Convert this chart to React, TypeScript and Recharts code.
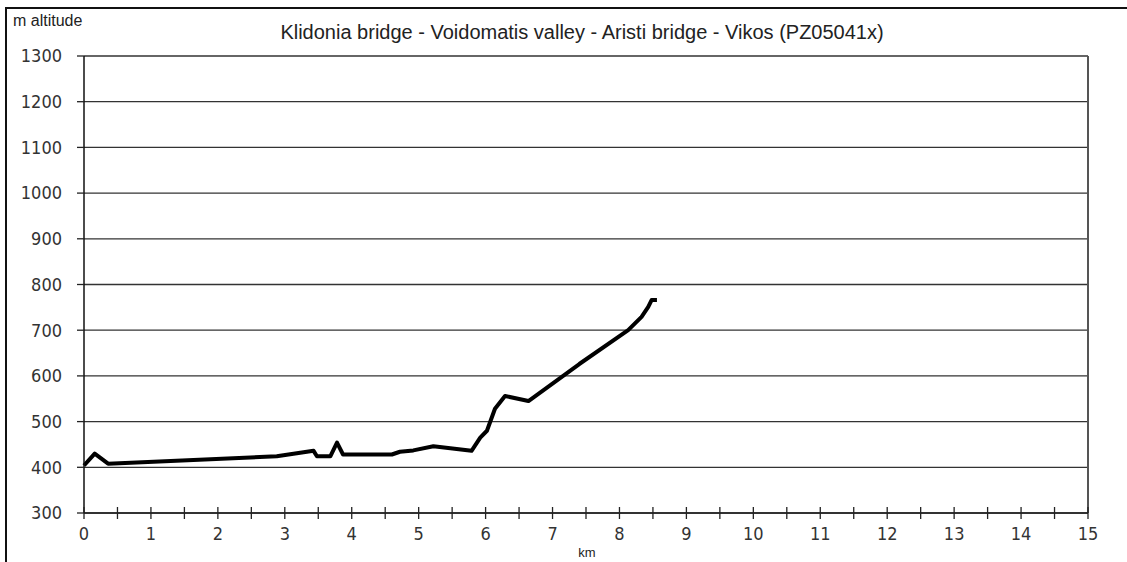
import React from "react";
import { LineChart, Line, XAxis, YAxis, CartesianGrid, ReferenceLine } from "recharts";

// distance along the route (km) and altitude (m)
const km = [0, 0.16, 0.36, 2.88, 3.43, 3.48, 3.68, 3.78, 3.87, 4.6, 4.72, 4.92, 5.22, 5.79, 5.92, 6.02, 6.14, 6.29, 6.64, 7.4, 8.13, 8.33, 8.43, 8.48, 8.56];
const altitude = [404, 430, 408, 424, 436, 424, 424, 454, 428, 428, 434, 437, 446, 436, 465, 480, 528, 556, 545, 626, 700, 729, 751, 766, 766];

const kmTicks = [0, 0.5, 1, 1.5, 2, 2.5, 3, 3.5, 4, 4.5, 5, 5.5, 6, 6.5, 7, 7.5, 8, 8.5, 9, 9.5, 10, 10.5, 11, 11.5, 12, 12.5, 13, 13.5, 14, 14.5, 15];
const altTicks = [300, 400, 500, 600, 700, 800, 900, 1000, 1100, 1200, 1300];

const title = "Klidonia bridge - Voidomatis valley - Aristi bridge - Vikos (PZ05041x)";

const data = km.map((k, i) => ({ km: k, alt: altitude[i] }));

const tickFont = "'DejaVu Sans Condensed', 'DejaVu Sans', sans-serif";
const textFont = "'Liberation Sans', Arial, sans-serif";

function KmTick(props: any) {
  const { x, y, payload } = props;
  const whole = Number.isInteger(payload.value);
  return (
    <g>
      <line x1={x} x2={x} y1={y - 6} y2={y + 6} stroke="#222" strokeWidth={1.3} />
      {whole && (
        <text x={x} y={y + 27} textAnchor="middle" fontSize={18} fill="#333" fontFamily={tickFont}>
          {payload.value}
        </text>
      )}
    </g>
  );
}

export default function App() {
  return (
    <div style={{ position: "absolute", left: 0, top: 0, width: 1127, height: 562, background: "#fff", overflow: "hidden" }}>
      <div style={{ position: "absolute", left: 5, top: 7, right: -4, bottom: -4, borderTop: "2px solid #111", borderLeft: "2px solid #111" }} />
      <div style={{ position: "absolute", left: 13, top: 12, fontFamily: textFont, fontSize: 16, color: "#222" }}>
        m altitude
      </div>
      <div style={{ position: "absolute", left: 0, width: 1164, top: 21, textAlign: "center", fontFamily: textFont, fontSize: 20, color: "#222" }}>
        {title}
      </div>
      <div style={{ position: "absolute", left: 567, width: 40, top: 545, textAlign: "center", fontFamily: textFont, fontSize: 13, color: "#222" }}>
        km
      </div>
      <LineChart width={1127} height={562} data={data} margin={{ top: 56, right: 39, bottom: 0, left: 0 }}>
        <CartesianGrid vertical={false} stroke="#333" strokeWidth={1.3} />
        <ReferenceLine x={15} stroke="#555" strokeWidth={2} />
        <XAxis
          dataKey="km"
          type="number"
          domain={[0, 15]}
          ticks={kmTicks}
          interval={0}
          height={49}
          tickSize={0}
          tickMargin={0}
          tickLine={false}
          tick={<KmTick />}
          axisLine={{ stroke: "#222", strokeWidth: 1.5 }}
        />
        <YAxis
          type="number"
          domain={[300, 1300]}
          ticks={altTicks}
          interval={0}
          width={84}
          tickSize={7}
          tickMargin={15}
          tickLine={{ stroke: "#222", strokeWidth: 1.3 }}
          axisLine={{ stroke: "#111", strokeWidth: 1.5 }}
          tick={{ fontSize: 18, fill: "#333", fontFamily: tickFont }}
        />
        <Line type="linear" dataKey="alt" stroke="#000" strokeWidth={4} dot={false} isAnimationActive={false} strokeLinejoin="round" />
      </LineChart>
    </div>
  );
}
